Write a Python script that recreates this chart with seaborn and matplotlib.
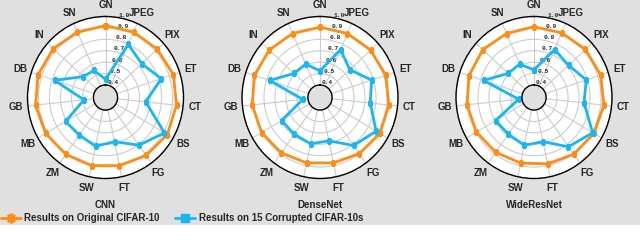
import numpy as np
import pandas as pd
import matplotlib
matplotlib.use("Agg")
import matplotlib.pyplot as plt
from matplotlib.patches import Rectangle
from matplotlib.lines import Line2D
import seaborn as sns

corruptions = ["GN", "JPEG", "PIX", "ET", "CT", "BS", "FG", "FT",
               "SW", "ZM", "MB", "GB", "DB", "IN", "SN"]
models = ["CNN", "DenseNet", "WideResNet"]

# accuracy on clean CIFAR-10 (orange) and on each corrupted set (blue)
cnn_clean = [0.92, 0.918, 0.923, 0.94, 0.94, 0.94, 0.918, 0.90,
             0.90, 0.905, 0.92, 0.93, 0.935, 0.93, 0.918]
cnn_corrupt = [0.45, 0.80, 0.733, 0.824, 0.657, 0.91, 0.807, 0.686,
               0.727, 0.696, 0.71, 0.487, 0.778, 0.563, 0.55]
dense_clean = [0.906, 0.904, 0.91, 0.92, 0.92, 0.92, 0.898, 0.876,
               0.876, 0.89, 0.904, 0.91, 0.918, 0.912, 0.904]
dense_corrupt = [0.523, 0.75, 0.654, 0.784, 0.75, 0.88, 0.81, 0.678,
                 0.705, 0.688, 0.694, 0.447, 0.773, 0.606, 0.61]
wrn_clean = [0.91, 0.91, 0.92, 0.928, 0.93, 0.92, 0.905, 0.884,
             0.878, 0.883, 0.895, 0.903, 0.912, 0.917, 0.904]
wrn_corrupt = [0.532, 0.75, 0.713, 0.79, 0.748, 0.907, 0.824, 0.686,
               0.718, 0.688, 0.694, 0.43, 0.773, 0.606, 0.61]

r_ticks = [0.4, 0.5, 0.6, 0.7, 0.8, 0.9, 1.0]
legend_labels = ["Results on Original CIFAR-10", "Results on 15 Corrupted CIFAR-10s"]

clean = [cnn_clean, dense_clean, wrn_clean]
corrupt = [cnn_corrupt, dense_corrupt, wrn_corrupt]

ORANGE = "#FF8C14"
BLUE = "#18B6F2"

sns.set_style("white")
plt.rcParams["font.family"] = ["Liberation Sans", "DejaVu Sans"]
plt.rcParams["font.weight"] = "bold"

fig = plt.figure(figsize=(6.4, 2.47), dpi=100)
fig.patches.append(Rectangle((0, 1 - 225 / 247), 1, 225 / 247, transform=fig.transFigure,
                             facecolor="#e0e0e0", edgecolor="none", zorder=-5))

theta = np.arange(len(corruptions)) * 2 * np.pi / len(corruptions)
theta_closed = np.append(theta, 2 * np.pi)

centers = [105.5, 320, 534]
for i, name in enumerate(models):
    cx = centers[i]
    ax = fig.add_axes([(cx - 78) / 640, 1 - (97.5 + 81) / 247, 156 / 640, 162 / 247],
                      projection="polar")
    ax.set_aspect("auto")
    ax.set_facecolor("white")
    ax.set_theta_zero_location("N")
    ax.set_theta_direction(-1)

    df = pd.DataFrame({
        "theta": np.concatenate([theta_closed, theta_closed]),
        "acc": np.concatenate([np.append(clean[i], clean[i][0]),
                               np.append(corrupt[i], corrupt[i][0])]),
        "set": [legend_labels[0]] * 16 + [legend_labels[1]] * 16,
    })
    sns.lineplot(data=df[df["set"] == legend_labels[0]], x="theta", y="acc", ax=ax,
                 sort=False, estimator=None, color=ORANGE, lw=2, marker="s", ms=3.5,
                 mec=ORANGE, legend=False)
    sns.lineplot(data=df[df["set"] == legend_labels[1]], x="theta", y="acc", ax=ax,
                 sort=False, estimator=None, color=BLUE, lw=2, marker="s", ms=3.5,
                 mec=BLUE, legend=False)
    ax.set_xlabel("")
    ax.set_ylabel("")

    ax.set_ylim(0.4, 1.0)
    ax.set_rorigin(0.29)
    ax.set_yticks(r_ticks)
    ax.set_yticklabels([f"{t:.1f}" for t in r_ticks], fontsize=4.5,
                       family="Liberation Mono", fontweight="bold")
    ax.set_rlabel_position(10)
    ax.set_xticks(theta)
    ax.set_xticklabels(corruptions, fontsize=7, fontweight="bold")
    ax.tick_params(axis="x", pad=-2)
    ax.grid(color="#cccccc", lw=0.8)
    ax.spines["polar"].set_color("black")
    ax.spines["polar"].set_linewidth(1)
    ax.spines["inner"].set_color("black")
    ax.spines["inner"].set_linewidth(1)

    fig.text(cx / 640, 1 - 205 / 247, name, ha="center", va="center",
             fontsize=7, fontweight="bold")

handles = [
    Line2D([], [], color=ORANGE, lw=2, marker=(8, 2, 0), ms=7, mew=1.6),
    Line2D([], [], color=BLUE, lw=2, marker="s", ms=6),
]
fig.legend(handles, legend_labels, loc="center left", bbox_to_anchor=(-0.012, 1 - 218 / 247),
           ncol=2, frameon=False, prop={"size": 7, "weight": "bold"},
           handlelength=2.0, handletextpad=0.4, columnspacing=1.6)

fig.savefig("out.png", dpi=100)
